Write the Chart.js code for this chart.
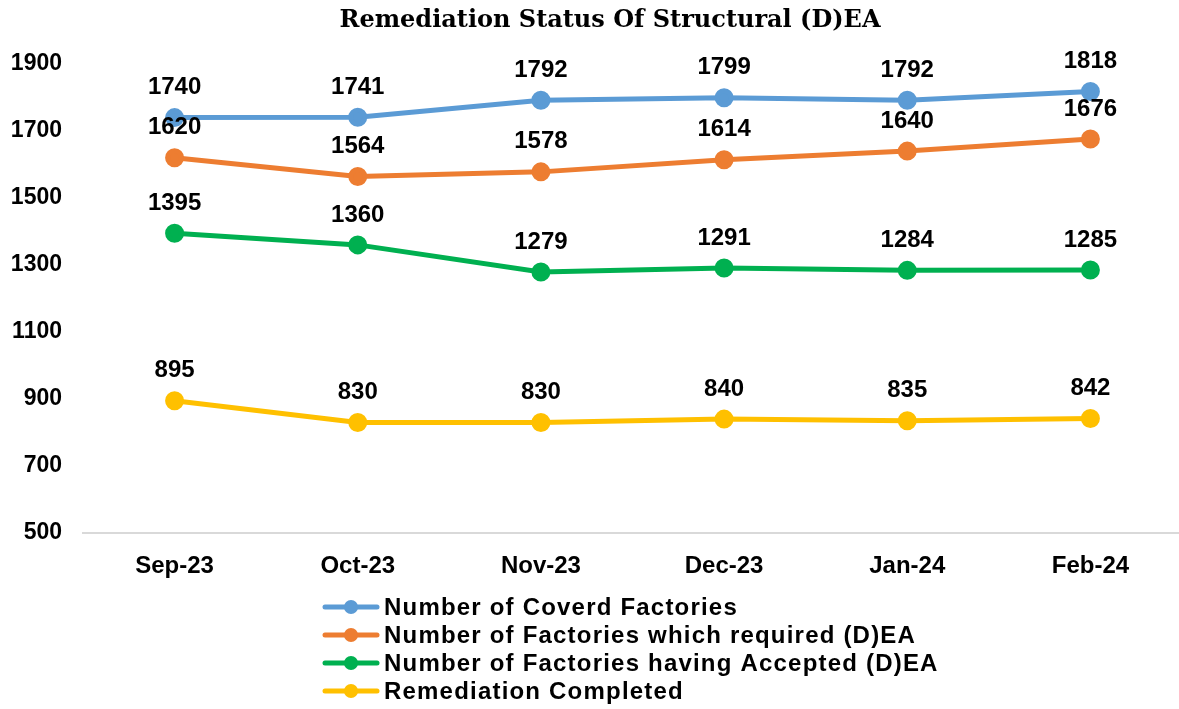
<!DOCTYPE html>
<html>
<head>
<meta charset="utf-8">
<script src="https://cdn.jsdelivr.net/npm/chart.js@4/dist/chart.umd.min.js"></script>
<style>
  html, body { margin: 0; padding: 0; background: #fff; overflow: hidden; }
  #wrap { width: 1194px; height: 709px; position: relative; }
</style>
</head>
<body>
<div id="wrap"><canvas id="chart"></canvas></div>
<script>
const months = ["Sep-23", "Oct-23", "Nov-23", "Dec-23", "Jan-24", "Feb-24"];
const coveredFactories = [1740, 1741, 1792, 1799, 1792, 1818];
const requiredDEA = [1620, 1564, 1578, 1614, 1640, 1676];
const acceptedDEA = [1395, 1360, 1279, 1291, 1284, 1285];
const remediationCompleted = [895, 830, 830, 840, 835, 842];

const TITLE = "Remediation Status Of Structural (D)EA";
const FONT = "'Liberation Sans', Arial, sans-serif";

function series(label, data, color) {
  return {
    label,
    data,
    borderColor: color,
    backgroundColor: color,
    borderWidth: 5,
    pointRadius: 7,
    pointHoverRadius: 7,
    tension: 0,
  };
}

// title, value labels and the stacked legend are drawn by hand
const decorations = {
  id: "decorations",
  afterDatasetsDraw(chart) {
    const ctx = chart.ctx;
    ctx.save();
    ctx.fillStyle = "#000";
    ctx.textAlign = "center";
    ctx.textBaseline = "middle";

    chart.data.datasets.forEach((ds, i) => {
      const meta = chart.getDatasetMeta(i);
      ctx.font = `bold 24px ${FONT}`;
      meta.data.forEach((pt, j) => {
        ctx.fillText(String(ds.data[j]), pt.x, pt.y - 30);
      });
    });

    ctx.font = `bold 24px 'DejaVu Serif', serif`;
    ctx.fillText(TITLE, 610, 21);

    chart.data.datasets.forEach((ds, i) => {
      const y = 607 + i * 28;
      ctx.strokeStyle = ds.borderColor;
      ctx.lineWidth = 5;
      ctx.lineCap = "round";
      ctx.beginPath();
      ctx.moveTo(325, y);
      ctx.lineTo(377, y);
      ctx.stroke();
      ctx.fillStyle = ds.borderColor;
      ctx.beginPath();
      ctx.arc(351, y, 7, 0, Math.PI * 2);
      ctx.fill();
      ctx.fillStyle = "#000";
      ctx.textAlign = "left";
      ctx.font = `bold 24px ${FONT}`;
      ctx.letterSpacing = "1.2px";
      ctx.fillText(ds.label, 384, y + 1);
      ctx.letterSpacing = "0px";
    });
    ctx.restore();
  },
};

new Chart(document.getElementById("chart"), {
  type: "line",
  data: {
    labels: months,
    datasets: [
      series("Number of Coverd Factories", coveredFactories, "#5b9bd5"),
      series("Number of Factories which required (D)EA", requiredDEA, "#ed7d31"),
      series("Number of Factories having Accepted (D)EA", acceptedDEA, "#00b050"),
      series("Remediation Completed", remediationCompleted, "#ffc000"),
    ],
  },
  options: {
    responsive: true,
    maintainAspectRatio: false,
    animation: false,
    layout: { padding: { top: 64, left: 0, right: 0, bottom: 0 } },
    plugins: {
      legend: { display: false },
      title: { display: false },
      tooltip: { enabled: false },
    },
    scales: {
      x: {
        offset: true,
        grid: { display: false },
        border: { display: true, color: "#d9d9d9", width: 2 },
        ticks: { color: "#000", font: { family: FONT, size: 24, weight: "bold" }, padding: 11 },
        afterFit: (s) => { s.height = 176; },
      },
      y: {
        min: 500,
        max: 1900,
        grid: { display: false },
        border: { display: false },
        ticks: {
          stepSize: 200,
          color: "#000",
          font: { family: FONT, size: 23, weight: "bold" },
          padding: 13,
          callback: (v) => String(v),
        },
        afterFit: (s) => { s.width = 83; },
      },
    },
  },
  plugins: [decorations],
});
</script>
</body>
</html>
